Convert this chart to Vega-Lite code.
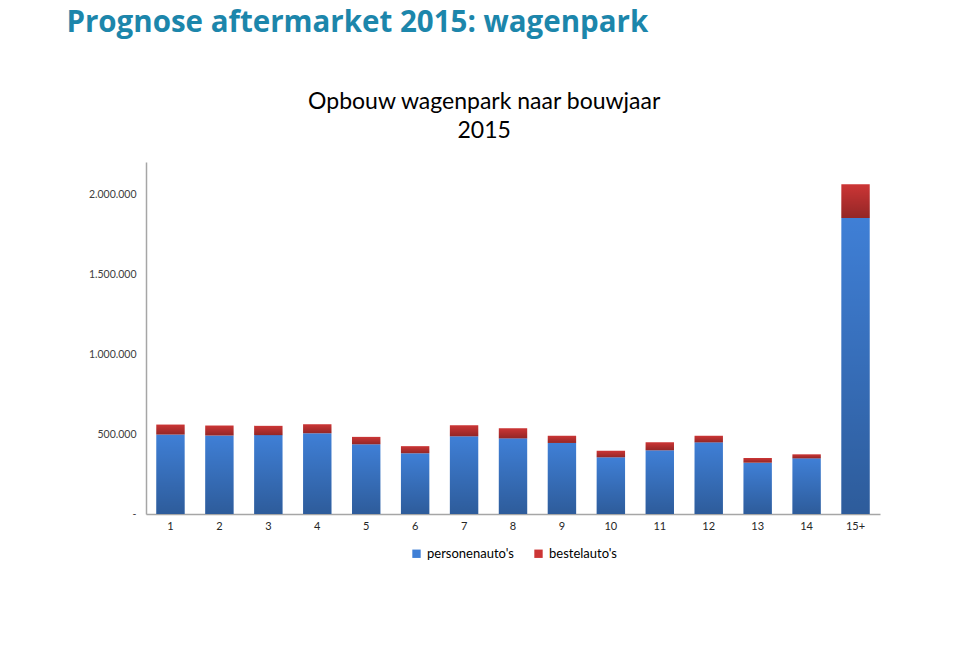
{
  "$schema": "https://vega.github.io/schema/vega-lite/v6.json",
  "background": "white",
  "padding": {"left": 66, "top": 7, "right": 5, "bottom": 5},
  "config": {
    "view": {"stroke": null},
    "font": "Lato",
    "locale": {"number": {"decimal": ",", "thousands": ".", "grouping": [3], "currency": ["€", ""]}},
    "legend": {"layout": {"bottom": {"anchor": "middle"}}}
  },
  "title": {
    "text": "Prognose aftermarket 2015: wagenpark",
    "anchor": "start",
    "frame": "bounds",
    "font": "Open Sans",
    "fontSize": 29.5,
    "fontWeight": "bold",
    "color": "#1c86ab",
    "dx": -22,
    "offset": 53
  },
  "vconcat": [
    {
      "width": 734,
      "height": 352,
      "title": {
        "text": ["Opbouw wagenpark naar bouwjaar", "2015"],
        "anchor": "middle",
        "frame": "bounds",
        "font": "Lato",
        "fontSize": 23,
        "fontWeight": "normal",
        "color": "#000000",
        "lineHeight": 29,
        "offset": 19
      },
      "data": {
        "values": [
          {"bouwjaar": "1", "series": "personenauto's", "aantal": 497000},
          {"bouwjaar": "1", "series": "bestelauto's", "aantal": 62000},
          {"bouwjaar": "2", "series": "personenauto's", "aantal": 491000},
          {"bouwjaar": "2", "series": "bestelauto's", "aantal": 62000},
          {"bouwjaar": "3", "series": "personenauto's", "aantal": 493000},
          {"bouwjaar": "3", "series": "bestelauto's", "aantal": 58000},
          {"bouwjaar": "4", "series": "personenauto's", "aantal": 505000},
          {"bouwjaar": "4", "series": "bestelauto's", "aantal": 56000},
          {"bouwjaar": "5", "series": "personenauto's", "aantal": 436000},
          {"bouwjaar": "5", "series": "bestelauto's", "aantal": 46000},
          {"bouwjaar": "6", "series": "personenauto's", "aantal": 380000},
          {"bouwjaar": "6", "series": "bestelauto's", "aantal": 44000},
          {"bouwjaar": "7", "series": "personenauto's", "aantal": 486000},
          {"bouwjaar": "7", "series": "bestelauto's", "aantal": 69000},
          {"bouwjaar": "8", "series": "personenauto's", "aantal": 473000},
          {"bouwjaar": "8", "series": "bestelauto's", "aantal": 63000},
          {"bouwjaar": "9", "series": "personenauto's", "aantal": 444000},
          {"bouwjaar": "9", "series": "bestelauto's", "aantal": 45000},
          {"bouwjaar": "10", "series": "personenauto's", "aantal": 354000},
          {"bouwjaar": "10", "series": "bestelauto's", "aantal": 42000},
          {"bouwjaar": "11", "series": "personenauto's", "aantal": 398000},
          {"bouwjaar": "11", "series": "bestelauto's", "aantal": 50000},
          {"bouwjaar": "12", "series": "personenauto's", "aantal": 448000},
          {"bouwjaar": "12", "series": "bestelauto's", "aantal": 41000},
          {"bouwjaar": "13", "series": "personenauto's", "aantal": 321000},
          {"bouwjaar": "13", "series": "bestelauto's", "aantal": 29000},
          {"bouwjaar": "14", "series": "personenauto's", "aantal": 348000},
          {"bouwjaar": "14", "series": "bestelauto's", "aantal": 25000},
          {"bouwjaar": "15+", "series": "personenauto's", "aantal": 1850000},
          {"bouwjaar": "15+", "series": "bestelauto's", "aantal": 211000}
        ]
      },
      "encoding": {
        "x": {
          "field": "bouwjaar",
          "type": "ordinal",
          "sort": null,
          "scale": {"paddingInner": 0.42, "paddingOuter": 0.21},
          "axis": {
            "title": null,
            "labelAngle": 0,
            "labelFontSize": 11,
            "labelColor": "#262626",
            "labelPadding": 6,
            "ticks": false,
            "domainColor": "#a6a6a6",
            "domainWidth": 1.5
          }
        },
        "y": {
          "field": "aantal",
          "type": "quantitative",
          "stack": "zero",
          "scale": {"domain": [0, 2200000], "nice": false},
          "axis": {
            "title": null,
            "values": [0, 500000, 1000000, 1500000, 2000000],
            "format": ",d",
            "labelExpr": "datum.value === 0 ? '-' : datum.label",
            "labelFontSize": 10.5,
            "labelColor": "#404040",
            "labelPadding": 10,
            "ticks": false,
            "grid": false,
            "domainColor": "#a6a6a6",
            "domainWidth": 1.5
          }
        },
        "order": {"field": "series", "sort": "descending"}
      },
      "layer": [
        {
          "mark": {"type": "bar"},
          "encoding": {
            "color": {
              "field": "series",
              "type": "nominal",
              "scale": {"domain": ["personenauto's", "bestelauto's"], "range": ["#3f7fd6", "#cc3535"]},
              "legend": {
                "title": null,
                "orient": "bottom",
                "direction": "horizontal",
                "symbolType": "square",
                "symbolSize": 70,
                "symbolStrokeWidth": 0,
                "labelFontSize": 13,
                "labelColor": "#000000",
                "columnPadding": 18,
                "offset": 16
              }
            }
          }
        },
        {
          "mark": {
            "type": "bar",
            "fill": {
              "gradient": "linear",
              "x1": 0, "y1": 0, "x2": 0, "y2": 1,
              "stops": [
                {"offset": 0, "color": "rgba(0,0,0,0)"},
                {"offset": 1, "color": "rgba(0,0,0,0.28)"}
              ]
            }
          },
          "encoding": {
            "detail": {"field": "series", "type": "nominal"}
          }
        }
      ]
    }
  ]
}
